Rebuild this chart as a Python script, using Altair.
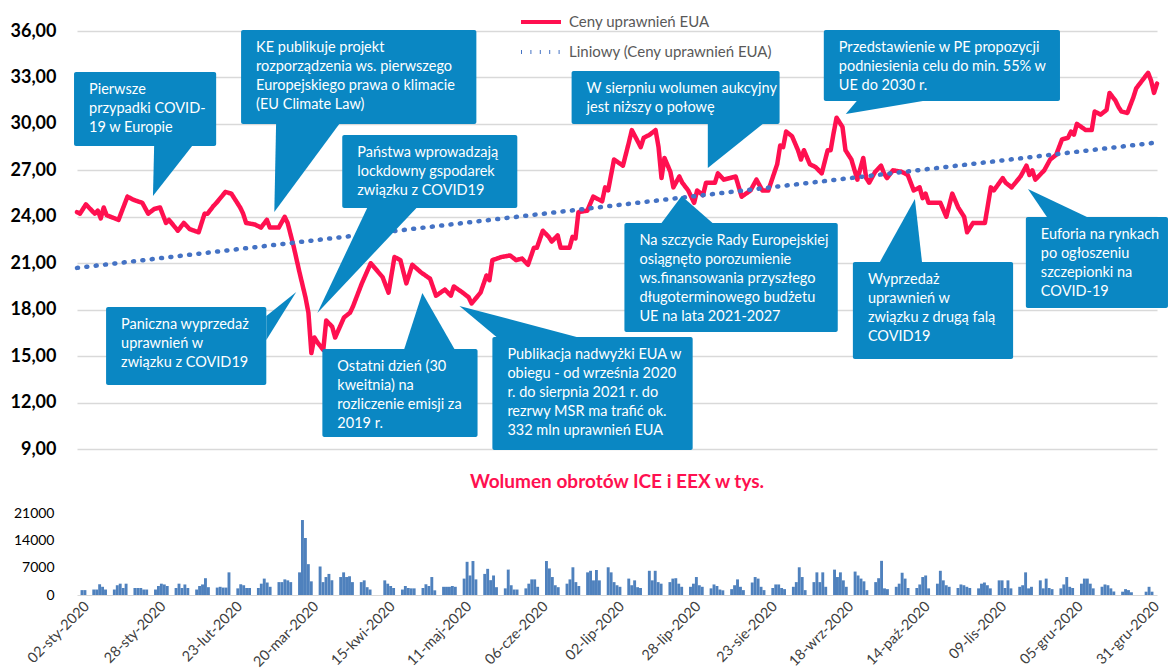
import altair as alt
import pandas as pd
import datetime as dt

# ---------------- data ----------------
# price: day offset from 2 Jan 2020 and EUA price (EUR)
price_day = [0, 1, 3, 5, 6, 7, 8, 9, 10, 14, 15, 17, 19, 22, 24, 26, 28, 30, 31, 34,
             36, 38, 41, 43, 44, 46, 47, 50, 52, 55, 56, 57, 60, 62, 64, 65, 68, 70, 71, 73,
             75, 77, 78, 79, 80, 81, 83, 84, 86, 87, 90, 92, 93, 96, 99, 103, 105, 107, 109, 111,
             113, 116, 119, 121, 124, 126, 127, 130, 132, 133, 136, 138, 139, 140, 143, 146, 148, 150, 152, 154,
             155, 157, 159, 160, 162, 163, 166, 167, 168, 169, 172, 174, 177, 178, 179, 181, 184, 186, 187, 190,
             191, 193, 195, 196, 197, 198, 200, 201, 203, 204, 206, 208, 209, 211, 212, 215, 216, 218, 220, 222,
             224, 227, 229, 231, 233, 236, 237, 238, 239, 241, 243, 244, 245, 247, 249, 251, 253, 254, 255, 256,
             258, 259, 261, 263, 265, 266, 267, 269, 271, 272, 273, 275, 278, 280, 282, 284, 285, 286, 287, 291,
             293, 295, 297, 299, 300, 302, 304, 306, 308, 309, 312, 313, 315, 318, 320, 321, 322, 323, 326, 328,
             330, 332, 334, 335, 336, 337, 340, 342, 343, 345, 347, 348, 350, 351, 352, 354, 356, 357, 359, 361,
             362, 363, 364]
price_val = [24.3, 24.2, 24.8, 24.4, 24.2, 24.4, 23.9, 24.6, 24.1, 23.8, 24.3, 25.3, 25.1, 24.9, 24.2, 24.5, 24.6, 23.6, 23.8, 23.1,
             23.6, 23.2, 23.0, 24.2, 24.2, 24.7, 24.9, 25.6, 25.5, 24.6, 24.2, 23.6, 23.5, 23.3, 23.8, 23.3, 23.3, 24.0, 23.6, 22.1,
             20.4, 18.8, 17.8, 15.2, 16.2, 15.9, 15.4, 17.3, 16.9, 16.2, 17.5, 17.8, 18.2, 19.7, 21.0, 20.1, 19.1, 21.4, 21.2, 19.7,
             20.9, 20.4, 20.0, 18.9, 19.3, 18.9, 19.5, 19.1, 18.8, 18.4, 19.1, 20.2, 19.9, 21.2, 21.4, 21.5, 21.2, 21.3, 20.9, 22.0,
             22.0, 23.1, 22.7, 22.4, 22.8, 22.0, 22.0, 22.7, 22.6, 24.3, 24.4, 25.3, 25.0, 25.9, 25.7, 27.7, 27.3, 28.8, 29.6, 28.5,
             29.1, 29.3, 29.6, 28.5, 26.5, 27.8, 26.9, 25.9, 26.6, 26.2, 25.7, 24.9, 25.7, 25.4, 26.2, 26.2, 26.8, 26.4, 26.5, 26.6,
             25.3, 25.7, 26.4, 25.7, 25.7, 27.4, 28.6, 28.5, 29.5, 29.2, 28.3, 27.7, 28.3, 27.4, 27.2, 26.8, 28.3, 28.3, 29.4, 30.4,
             29.8, 28.3, 27.7, 26.4, 27.8, 26.5, 26.2, 26.9, 27.3, 26.8, 26.5, 27.0, 26.9, 26.7, 25.7, 25.9, 25.2, 25.5, 24.9, 24.9,
             24.0, 25.5, 24.6, 24.0, 23.0, 23.6, 23.6, 23.6, 25.9, 25.7, 26.5, 26.2, 25.9, 26.6, 27.3, 26.7, 27.0, 26.4, 27.0, 27.7,
             28.0, 29.0, 29.1, 29.5, 29.3, 30.0, 29.6, 29.6, 30.8, 30.6, 30.9, 32.0, 31.5, 31.1, 30.8, 30.7, 31.7, 32.3, 32.8, 33.3,
             32.8, 32.0, 32.6]

# linear trend (Liniowy) end values
trend_day = [0, 364]
trend_val = [20.7, 28.8]

# daily volume (thousands), one list per week of business days (0 = no trading)
vol_weeks = [
    [1250, 1250],
    [1400, 1400, 2750, 2100, 1400],
    [1400, 2500, 2900, 1800, 2900],
    [1800, 1800, 1800, 1400, 1400],
    [1400, 2300, 2900, 2700, 2300],
    [1800, 2900, 1800, 2700, 1800],
    [1400, 2300, 2700, 4300, 2000],
    [1900, 2100, 1900, 1900, 5800],
    [1700, 2750, 2500, 1800, 1800],
    [1800, 2900, 4200, 3200, 2100],
    [3300, 3300, 4000, 3750, 3300],
    [5800, 19200, 14600, 7900, 3500],
    [7300, 3300, 4600, 5400, 3750],
    [4600, 5800, 4600, 4800, 3300],
    [3300, 3750, 2000, 1400, 0],
    [0, 3750, 2900, 2300, 1800],
    [1400, 2300, 1800, 1700, 1700],
    [1800, 2750, 2300, 4600, 1200],
    [2100, 2100, 2100, 2300, 2100],
    [4200, 8500, 5000, 8700, 4000],
    [5400, 6700, 3800, 5000, 2000],
    [1700, 6500, 2500, 1400, 1400],
    [1700, 2900, 4000, 4000, 2100],
    [8700, 6800, 4600, 2500, 2000],
    [2900, 4000, 7100, 3300, 2300],
    [5800, 6200, 3750, 6400, 3750],
    [7100, 5800, 3300, 2500, 2100],
    [4200, 2500, 3750, 2000, 1800],
    [6200, 3750, 6200, 3300, 2900],
    [3300, 4200, 4300, 2900, 2100],
    [2100, 2900, 4600, 2500, 2100],
    [1700, 2700, 2300, 1400, 1200],
    [1500, 2500, 4000, 2100, 1250],
    [3200, 4600, 4200, 2100, 1250],
    [1800, 2700, 2700, 1800, 1500],
    [2100, 3300, 7100, 4600, 1250],
    [3300, 5800, 3300, 5800, 2100],
    [6500, 4600, 5800, 3750, 2100],
    [6000, 5000, 4200, 3500, 1250],
    [3300, 4300, 8750, 1700, 1500],
    [2100, 2900, 5700, 4200, 1800],
    [1800, 2700, 4600, 5000, 1700],
    [2900, 6200, 3750, 2500, 2100],
    [1800, 2700, 2500, 2100, 1800],
    [1700, 2900, 3200, 2500, 1700],
    [3750, 3750, 1800, 3750, 1700],
    [2100, 2500, 5800, 1700, 2100],
    [3750, 1700, 4200, 1800, 1500],
    [1700, 2700, 4600, 2100, 1800],
    [2900, 4200, 4200, 2900, 1700],
    [2100, 2700, 2500, 1700, 900],
    [850, 1500, 1250, 700, 0],
    [0, 850, 2100, 850],
]

# x tick labels (every 26 days) and Polish month abbreviations
tick_day = [0, 26, 52, 78, 104, 130, 156, 182, 208, 234, 260, 286, 312, 338, 364]
months_pl = ["sty", "lut", "mar", "kwi", "maj", "cze", "lip", "sie", "wrz", "paź", "lis", "gru"]

series_names = ["Ceny uprawnień EUA", "Liniowy (Ceny uprawnień EUA)"]

# callouts: text, box (day from, day to, price top, price bottom), pointer tip (day, price),
# pointer base on box edge: ("h", day_left, day_right, price_edge) or ("v", day_edge, price_a, price_b)
callouts = [
    ("Pierwsze\nprzypadki COVID-\n19 w Europie", (-1.0, 46.9, 33.35, 28.57), (25.6, 25.34), ("h", 26.0, 38.8, 28.57)),
    ("KE publikuje projekt\nrozporządzenia ws. pierwszego\nEuropejskiego prawa o klimacie\n(EU Climate Law)",
     (55.3, 134.6, 36.06, 29.99), (66.5, 24.31), ("h", 67.1, 88.4, 29.99)),
    ("Państwa wprowadzają\nlockdowny gspodarek\nzwiązku z COVID19", (89.4, 148.4, 29.28, 24.57), (81.0, 17.78), ("h", 97.8, 114.4, 24.57)),
    ("Paniczna wyprzedaż\nuprawnień w\nzwiązku z COVID19", (9.8, 63.8, 18.17, 13.13), (73.9, 19.14), ("v", 63.8, 17.59, 16.04)),
    ("Ostatni dzień (30\nkweitnia) na\nrozliczenie emisji za\n2019 r.", (82.7, 135.0, 15.46, 9.77), (116.4, 19.07), ("h", 110.3, 127.2, 15.46)),
    ("Publikacja nadwyżki EUA w\nobiegu - od września 2020\nr. do sierpnia 2021 r. do\nrezrwy MSR ma trafić ok.\n332 mln uprawnień EUA",
     (140.0, 207.5, 16.23, 8.93), (128.9, 18.24), ("h", 141.4, 168.4, 16.23)),
    ("W sierpniu wolumen aukcyjny\njest niższy o połowę", (166.7, 236.8, 33.42, 29.99), (212.6, 27.15), ("h", 212.6, 231.1, 29.99)),
    ("Na szczycie Rady Europejskiej\nosiągnęto porozumienie\nws.finansowania przyszłego\ndługoterminowego budżetu\nUE na lata 2021-2027",
     (184.5, 256.4, 23.60, 16.56), (203.8, 25.34), ("h", 197.0, 214.2, 23.60)),
    ("Przedstawienie w PE propozycji\npodniesienia celu do min. 55% w\nUE do 2030 r.", (251.7, 331.3, 36.06, 31.48), (259.1, 30.64), ("h", 262.8, 285.1, 31.48)),
    ("Wyprzedaż\nuprawnień w\nzwiązku z drugą falą\nCOVID19", (261.5, 315.5, 21.08, 14.81), (282.4, 25.15), ("h", 270.6, 284.8, 21.08)),
    ("Euforia na rynkach\npo ogłoszeniu\nszczepionki na\nCOVID-19", (319.8, 367.7, 23.98, 18.11), (320.5, 25.79), ("h", 326.9, 340.4, 23.98)),
]

# ---------------- helpers ----------------
T0 = dt.datetime(2020, 1, 2)


def iso(d):
    return (T0 + dt.timedelta(days=float(d))).strftime("%Y-%m-%dT%H:%M:%SZ")


RED = "#FF1050"
DOT = "#4472C4"
BOX = "#0A87C3"
FONT = "Lato"

lines_df = pd.DataFrame(
    [{"date": iso(d), "value": v, "series": series_names[0]} for d, v in zip(price_day, price_val)]
    + [{"date": iso(d), "value": v, "series": series_names[1]} for d, v in zip(trend_day, trend_val)]
)

box_rows, text_rows, ph_rows, pv_rows = [], [], [], []
for i, (txt, box, tip, base) in enumerate(callouts):
    box_rows.append({"x0": iso(box[0]), "x1": iso(box[1]), "y0": box[2], "y1": box[3]})
    text_rows.append({"x0": iso(box[0]), "y0": box[2], "text": txt})
    if base[0] == "h":
        ph_rows.append({"id": i, "y": tip[1], "xa": iso(tip[0]), "xb": iso(tip[0])})
        ph_rows.append({"id": i, "y": base[3], "xa": iso(base[1]), "xb": iso(base[2])})
    else:
        pv_rows.append({"id": i, "x": iso(tip[0]), "ya": tip[1], "yb": tip[1]})
        pv_rows.append({"id": i, "x": iso(base[1]), "ya": base[2], "yb": base[3]})

box_df = pd.DataFrame(box_rows)
text_df = pd.DataFrame(text_rows)
ph_df = pd.DataFrame(ph_rows)
pv_df = pd.DataFrame(pv_rows)

bdays = pd.bdate_range("2020-01-02", "2020-12-31")
flat = [v for w in vol_weeks for v in w]
assert len(flat) == len(bdays), (len(flat), len(bdays))
vol_df = pd.DataFrame({"date": [d.strftime("%Y-%m-%d") for d in bdays], "vol": flat})
vol_df = vol_df[vol_df["vol"] > 0]

# ---------------- scales ----------------
W = 1080
XDOM = [alt.DateTime(year=2020, month=1, date=2, utc=True), alt.DateTime(year=2020, month=12, date=31, utc=True)]
xs = alt.Scale(type="utc", domain=XDOM, nice=False)
ys = alt.Scale(domain=[9, 36], nice=False, zero=False)

y_axis = alt.Axis(values=[9, 12, 15, 18, 21, 24, 27, 30, 33, 36],
                  labelExpr="replace(format(datum.value, '.2f'), '.', ',')",
                  labelFont=FONT, labelFontSize=18, labelFontWeight="bold", labelColor="#000000",
                  labelPadding=21, domain=False, ticks=False, grid=True,
                  gridColor="#D9D9D9", gridWidth=1.5, title=None)

lines = alt.Chart(lines_df).mark_line(strokeWidth=4.5, strokeCap="round", strokeJoin="round").encode(
    x=alt.X("date:T", scale=xs, axis=None),
    y=alt.Y("value:Q", scale=ys, axis=y_axis),
    color=alt.Color("series:N", scale=alt.Scale(domain=series_names, range=[RED, DOT]),
                    legend=alt.Legend(title=None)),
    strokeDash=alt.StrokeDash("series:N", scale=alt.Scale(domain=series_names, range=[[1, 0], [1, 8.4]]),
                              legend=alt.Legend(title=None)),
)

ptr_h = alt.Chart(ph_df).mark_area(orient="horizontal", color=BOX).encode(
    y=alt.Y("y:Q", scale=ys, stack=None, title=None),
    x=alt.X("xa:T", scale=xs, axis=None),
    x2="xb:T",
    detail="id:N",
)
ptr_v = alt.Chart(pv_df).mark_area(orient="vertical", color=BOX).encode(
    x=alt.X("x:T", scale=xs, axis=None),
    y=alt.Y("ya:Q", scale=ys, stack=None, title=None),
    y2="yb:Q",
    detail="id:N",
)
boxes = alt.Chart(box_df).mark_rect(color=BOX, cornerRadius=2).encode(
    x=alt.X("x0:T", scale=xs, axis=None), x2="x1:T",
    y=alt.Y("y0:Q", scale=ys, title=None), y2="y1:Q",
)
texts = alt.Chart(text_df).mark_text(align="left", baseline="top", dx=15, dy=11, lineBreak="\n",
                                     lineHeight=19, font=FONT, fontSize=14.5, color="white").encode(
    x=alt.X("x0:T", scale=xs, axis=None),
    y=alt.Y("y0:Q", scale=ys, title=None),
    text="text:N",
)

top = alt.layer(lines, ptr_h, ptr_v, boxes, texts).properties(width=W, height=418)

label_expr = ("utcFormat(datum.value, '%d') + '-' + " + str(months_pl).replace('"', "'") +
              "[utcmonth(datum.value)] + '-' + utcFormat(datum.value, '%Y')")
tick_vals = []
for d in tick_day:
    t = T0 + dt.timedelta(days=d)
    tick_vals.append(alt.DateTime(year=t.year, month=t.month, date=t.day, utc=True))

bottom = alt.Chart(vol_df).mark_bar(size=2.9, color="#4F81BD").encode(
    x=alt.X("date:T", scale=xs,
            axis=alt.Axis(values=tick_vals, labelExpr=label_expr, labelAngle=-45, labelFont=FONT,
                          labelFontSize=14.5, labelColor="#404040", labelOverlap=False, labelBound=False,
                          labelPadding=4, ticks=False, domain=True, domainColor="#D9D9D9",
                          grid=False, title=None)),
    y=alt.Y("vol:Q", scale=alt.Scale(domain=[0, 21000], nice=False),
            axis=alt.Axis(values=[0, 7000, 14000, 21000], format="d", labelFont=FONT, labelFontSize=14,
                          labelColor="#000000", labelPadding=23, domain=False, ticks=False,
                          grid=False, title=None)),
).properties(
    width=W, height=82,
    title=alt.TitleParams("Wolumen obrotów ICE i EEX w tys.", color=RED, font=FONT, fontSize=19,
                          fontWeight="bold", anchor="middle", offset=14),
)

chart = alt.vconcat(top, bottom, spacing=15).properties(
    padding={"left": 10, "top": 0, "right": 0, "bottom": 0}
).configure_view(stroke=None).configure_legend(
    orient="none", legendX=442, legendY=-31, symbolType="stroke", symbolSize=1600,
    symbolStrokeWidth=4, labelFont=FONT, labelFontSize=15, labelColor="#595959",
    rowPadding=0, labelOffset=6, labelLimit=400,
)

chart.save("out.html", embed_options={"renderer": "svg", "actions": False})
